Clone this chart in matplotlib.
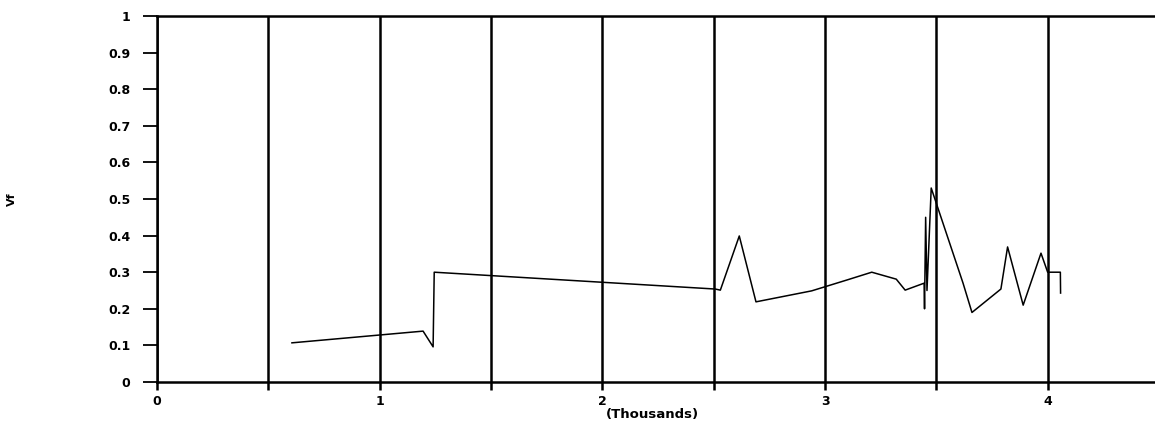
import matplotlib.pyplot as plt
from matplotlib.ticker import MultipleLocator

# ------------------------------------------------------------
# Datos (eje x en miles)
# ------------------------------------------------------------
x_thousands = [0.606, 1.195, 1.240, 1.245, 2.507, 2.530, 2.615, 2.690,
               2.940, 3.100, 3.210, 3.320, 3.360, 3.445, 3.447, 3.452,
               3.458, 3.477, 3.620, 3.660, 3.790, 3.820, 3.890, 3.970,
               4.000, 4.057, 4.058]
vf = [0.107, 0.139, 0.096, 0.300, 0.254, 0.251, 0.399, 0.219,
      0.249, 0.279, 0.300, 0.281, 0.251, 0.270, 0.200, 0.450,
      0.250, 0.530, 0.270, 0.190, 0.254, 0.369, 0.210, 0.352,
      0.300, 0.300, 0.243]

y_ticks = [0, 0.1, 0.2, 0.3, 0.4, 0.5, 0.6, 0.7, 0.8, 0.9, 1]
y_labels = ["0", "0.1", "0.2", "0.3", "0.4", "0.5", "0.6", "0.7", "0.8", "0.9", "1"]
x_ticks = [0, 1, 2, 3, 4]
x_labels = ["0", "1", "2", "3", "4"]

# ------------------------------------------------------------
# Figura
# ------------------------------------------------------------
W, H = 1155, 423
fig = plt.figure(figsize=(W / 100, H / 100), dpi=100)
ax = fig.add_axes([157 / W, (H - 382) / H, 1002 / W, 366 / H])

ax.plot(x_thousands, vf, color="black", linewidth=1.1)

ax.set_xlim(0, 4.5)
ax.set_ylim(0, 1)

# rejilla vertical cada 0.5
ax.xaxis.set_minor_locator(MultipleLocator(0.5))
ax.grid(True, axis="x", which="both", color="black", linewidth=1.8)

ax.set_xticks(x_ticks)
ax.set_xticklabels(x_labels, fontsize=9, fontweight="bold")
ax.set_yticks(y_ticks)
ax.set_yticklabels(y_labels, fontsize=9, fontweight="bold")

ax.tick_params(axis="y", direction="out", length=10, width=1.3, pad=9)
ax.tick_params(axis="x", which="both", direction="out", length=6, width=1.8, pad=3)

for side in ["left", "bottom", "top"]:
    ax.spines[side].set_linewidth(1.8)
ax.spines["right"].set_visible(False)

fig.text(12 / W, 1 - 199 / H, "Vf", rotation=90, fontsize=8,
         fontweight="bold", ha="center", va="center")
fig.text(652 / W, 1 - 414 / H, "(Thousands)", fontsize=9.5,
         fontweight="bold", ha="center", va="center")

plt.savefig("out.png", dpi=100)
plt.close()
